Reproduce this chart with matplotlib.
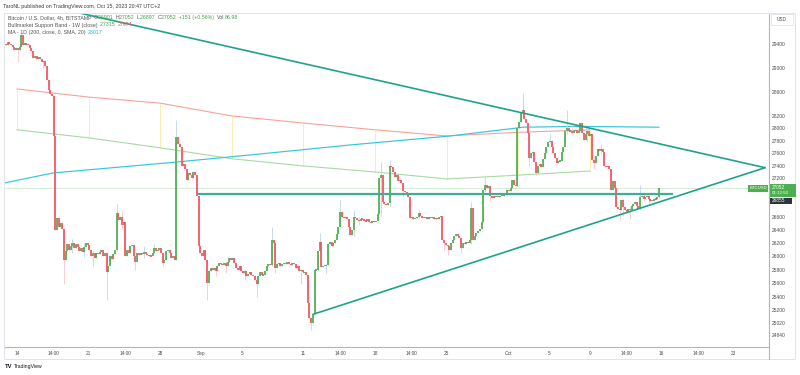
import numpy as np
import pandas as pd
import matplotlib
matplotlib.use("Agg")
import matplotlib.pyplot as plt
import matplotlib.dates as mdates
from matplotlib.patches import Rectangle
from matplotlib.lines import Line2D
from matplotlib.ticker import FixedLocator, NullLocator

plt.rcParams['font.family'] = ['Liberation Sans', 'DejaVu Sans']

W, H = 800, 375

# ---------------- data ----------------
first_time = "2023-08-12 18:00"
first_open = 29420
closes = [
    29400, 29380,                                   # Aug 12 (18,22)
    29430, 29400, 29380, 29350, 29300, 29330,       # Aug 13
    29300, 29350, 29560, 29380, 29420, 29390,       # Aug 14
    29380, 29330, 29280, 29170, 29200, 29150,       # Aug 15
    29180, 29150, 29090, 29110, 29030, 28800,       # Aug 16
    28620, 28560, 28520, 27870, 26400, 26580,       # Aug 17
    26450, 26500, 26420, 25950, 26080, 26180,       # Aug 18
    26100, 26150, 26200, 26120, 26180, 26140,       # Aug 19
    26080, 26120, 26060, 26140, 26200, 26170,       # Aug 20
    26100, 26000, 26050, 25980, 26050, 26030,       # Aug 21
    26070, 26100, 26000, 26050, 25760, 25850,       # Aug 22
    26000, 25960, 26030, 26100, 26660, 26550,       # Aug 23
    26600, 26480, 26520, 26000, 26100, 26050,       # Aug 24
    26150, 26170, 26000, 25920, 26050, 26020,       # Aug 25
    26050, 26030, 26060, 26040, 26020, 26010,       # Aug 26
    26000, 26050, 26120, 26080, 26100, 26120,       # Aug 27
    26050, 25900, 25950, 26080, 26100, 26050,       # Aug 28
    25980, 26000, 25950, 27860, 27750, 27700,       # Aug 29
    27400, 27420, 27350, 27170, 27280, 27250,       # Aug 30
    27200, 27300, 27260, 26920, 26150, 26050,       # Aug 31
    26000, 26100, 25950, 25600, 25780, 25820,       # Sep 1
    25800, 25830, 25780, 25850, 25900, 25880,       # Sep 2
    25870, 25900, 25860, 25920, 25980, 25940,       # Sep 3
    25980, 25900, 25830, 25800, 25850, 25780,       # Sep 4
    25750, 25780, 25700, 25740, 25760, 25720,       # Sep 5
    25700, 25650, 25580, 25700, 25760, 25720,       # Sep 6
    25720, 25780, 25850, 25880, 25870, 26250,       # Sep 7
    26200, 25820, 25880, 25900, 25860, 25880,       # Sep 8
    25900, 25880, 25910, 25890, 25870, 25900,       # Sep 9
    25880, 25820, 25850, 25780, 25800, 25760,       # Sep 10
    25760, 25720, 25300, 25080, 25010, 25150,       # Sep 11
    25790, 25800, 26080, 26220, 25840, 25860,       # Sep 12
    25850, 25870, 26180, 26220, 26150, 26200,       # Sep 13
    26250, 26340, 26450, 26680, 26600, 26580,       # Sep 14
    26600, 26560, 26450, 26320, 26400, 26600,       # Sep 15
    26580, 26550, 26530, 26570, 26560, 26540,       # Sep 16
    26530, 26560, 26520, 26500, 26540, 26520,       # Sep 17
    26540, 26650, 27200, 27250, 26830, 26800,       # Sep 18
    26780, 26820, 27400, 27380, 27300, 27220,       # Sep 19
    27250, 27150, 27170, 27120, 27000, 26980,       # Sep 20
    26950, 26900, 26580, 26600, 26560, 26580,       # Sep 21
    26600, 26660, 26620, 26580, 26600, 26590,       # Sep 22
    26570, 26590, 26580, 26600, 26570, 26580,       # Sep 23
    26560, 26590, 26610, 26250, 26200, 26170,       # Sep 24
    26150, 26100, 26200, 26250, 26300, 26330,       # Sep 25
    26300, 26280, 26130, 26200, 26180, 26220,       # Sep 26
    26200, 26250, 26740, 26250, 26300, 26350,       # Sep 27
    26380, 26420, 26520, 27020, 27100, 27050,       # Sep 28
    27080, 26920, 26890, 26930, 26900, 26920,       # Sep 29
    26910, 26930, 26920, 26950, 26940, 27020,       # Sep 30
    27000, 27050, 27170, 27100, 27080, 28000,       # Oct 1
    28100, 28250, 28300, 28150, 28080, 27930,       # Oct 2
    27520, 27600, 27620, 27460, 27280, 27400,       # Oct 3
    27430, 27380, 27500, 27600, 27700, 27780,       # Oct 4
    27800, 27700, 27600, 27520, 27440, 27470,       # Oct 5
    27480, 27620, 27700, 27960, 28000, 27950,       # Oct 6
    27960, 27930, 27950, 27970, 27920, 27950,       # Oct 7
    28080, 27920, 27810, 27900, 27950, 27880,       # Oct 8
    27900, 27490, 27440, 27550, 27660, 27640,       # Oct 9
    27660, 27620, 27400, 27380, 27400, 27350,       # Oct 10
    27020, 27150, 27050, 26750, 26720, 26700,       # Oct 11
    26860, 26750, 26700, 26680, 26720, 26700,       # Oct 12
    26760, 26800, 26830, 26760, 26720, 26900,       # Oct 13
    26920, 26880, 26900, 26920, 26870, 26850,       # Oct 14
    26850, 26880, 26870, 26901, 27052,              # Oct 15
]

# notable wicks (candle open time, high, low)
wick_times = ["2023-08-14 02:00", "2023-08-14 10:00", "2023-08-16 14:00",
              "2023-08-18 14:00", "2023-08-19 10:00", "2023-08-20 14:00",
              "2023-08-21 10:00", "2023-08-22 18:00", "2023-08-23 18:00",
              "2023-08-24 06:00", "2023-08-25 14:00", "2023-08-26 10:00",
              "2023-08-27 10:00", "2023-08-28 06:00", "2023-08-29 14:00",
              "2023-09-01 14:00", "2023-09-02 10:00", "2023-09-03 10:00",
              "2023-09-05 06:00", "2023-09-06 10:00", "2023-09-07 22:00",
              "2023-09-08 06:00", "2023-09-10 18:00", "2023-09-11 18:00",
              "2023-09-12 14:00", "2023-09-13 06:00", "2023-09-14 14:00",
              "2023-09-15 22:00", "2023-09-16 10:00", "2023-09-18 14:00",
              "2023-09-19 10:00", "2023-09-20 18:00", "2023-09-22 06:00",
              "2023-09-24 18:00", "2023-09-25 02:00", "2023-09-26 10:00",
              "2023-09-27 10:00", "2023-09-28 18:00", "2023-09-29 06:00",
              "2023-10-02 10:00", "2023-10-03 02:00", "2023-10-03 18:00",
              "2023-10-04 14:00", "2023-10-05 02:00", "2023-10-06 18:00",
              "2023-10-07 06:00", "2023-10-08 18:00", "2023-10-09 10:00",
              "2023-10-10 02:00", "2023-10-11 22:00", "2023-10-12 06:00",
              "2023-10-12 22:00", "2023-10-13 22:00", "2023-10-14 06:00",
              "2023-10-14 18:00", "2023-10-15 18:00"]
wick_highs = [29310, 29590, 29120,
              26430, 26260, 26200,
              26080, 25860, 26800,
              26700, 26000, 26150,
              26180, 26060, 28130,
              25800, 25860, 25930,
              25800, 25700, 26440,
              26220, 25810, 25100,
              26350, 25880, 26860,
              26700, 26600, 27460,
              27490, 27080, 26720,
              26260, 26160, 26230,
              26830, 27250, 26940,
              28580, 27960, 27480,
              27700, 27900, 28290,
              28050, 27960, 27550,
              27750, 26760, 26880,
              26760, 27100, 26980,
              26940, 27052]
wick_lows = [29095, 29350, 28980,
             25590, 26050, 25990,
             25850, 25350, 26080,
             26420, 25800, 25980,
             26050, 25850, 25940,
             25350, 25700, 25750,
             25650, 25390, 25860,
             25750, 25590, 24910,
             26150, 25750, 26420,
             26300, 26480, 26620,
             26760, 26900, 26560,
             26100, 26025, 26050,
             26180, 26980, 26850,
             28200, 27400, 27250,
             27560, 27760, 27900,
             27900, 27780, 27350,
             27600, 26550, 26620,
             26570, 26700, 26850,
             26800, 26897]

# Bull market support band (weekly)
week_dates = ["2023-08-14", "2023-08-21", "2023-08-28", "2023-09-04", "2023-09-11",
              "2023-09-18", "2023-09-25", "2023-10-02", "2023-10-09"]
bmsb_sma = [28644, 28510, 28410, 28200, 28085, 27975, 27875, 27935, 27974]
bmsb_ema = [27975, 27845, 27685, 27510, 27395, 27300, 27190, 27250, 27315]

# 200 SMA (1D)
ma_dates = ["2023-08-12 18:00", "2023-08-17 12:00", "2023-08-29 15:00", "2023-09-06 18:00",
            "2023-09-15 13:00", "2023-09-25 08:00", "2023-10-01 21:00", "2023-10-02 10:00",
            "2023-10-08 00:00", "2023-10-15 18:00"]
ma_values = [27126, 27284, 27458, 27586, 27730, 27875, 28004, 28017, 28030, 28017]

# drawings
tl_upper_dates = ["2023-08-19 16:00", "2023-10-26 03:00"]
tl_upper_prices = [29950, 27368]
tl_lower_dates = ["2023-09-11 23:00", "2023-10-26 03:00"]
tl_lower_prices = [25141, 27368]
hline_dates = ["2023-08-31 14:00", "2023-10-17 03:00"]
hline_price = 26950
last_price = 27052
marker_price = 26855

ytick_values = [29400, 29000, 28600, 28200, 28000, 27800, 27600, 27400, 27200,
                26600, 26400, 26200, 26000, 25800, 25600, 25400, 25200, 25020, 24840]
xtick_dates = ["2023-08-14 00:00", "2023-08-17 14:00", "2023-08-21 00:00", "2023-08-24 14:00",
               "2023-08-28 00:00", "2023-09-01 00:00", "2023-09-05 00:00", "2023-09-11 00:00",
               "2023-09-14 14:00", "2023-09-18 00:00", "2023-09-21 14:00", "2023-09-25 00:00",
               "2023-10-01 00:00", "2023-10-05 00:00", "2023-10-09 00:00", "2023-10-12 14:00",
               "2023-10-16 00:00", "2023-10-19 14:00", "2023-10-23 00:00"]
xtick_labels = ["14", "14:00", "21", "14:00", "28", "Sep", "5", "11", "14:00", "18",
                "14:00", "25", "Oct", "5", "9", "14:00", "16", "14:00", "23"]

# ---------------- styling ----------------
GREEN = '#4caf50'
RED = '#f7525f'
WICK_G = '#bcd7e3'
WICK_R = '#f9c6cb'
TEAL = '#1fa38c'
FRAME = '#e0e3eb'
AXISC = '#b2b5be'
TXT = '#4a4a4a'


def d2n(s):
    return mdates.date2num(pd.Timestamp(s))


def dn(lst):
    return np.array([d2n(s) for s in lst])


fig = plt.figure(figsize=(W / 100, H / 100), dpi=100)
fig.patch.set_facecolor('white')

pane_l, pane_r, pane_t, pane_b = 4, 769, 12.5, 346.7
ax = fig.add_axes([pane_l / W, 1 - pane_b / H, (pane_r - pane_l) / W, (pane_b - pane_t) / H])
ax.set_facecolor('white')

base = d2n("2023-08-14 00:00")
ax.set_xlim(base - 1.271, base + 73.51)
ax.set_yscale('log')
ax.set_ylim(24673, 29941)

times = pd.date_range(first_time, periods=len(closes), freq='4h')
x = np.array([mdates.date2num(t) for t in times])
c = np.array(closes, dtype=float)
o = np.concatenate([[first_open], c[:-1]])
up = c >= o
lo = np.minimum(o, c)
hi = np.maximum(o, c)
hi_w = hi.copy()
lo_w = lo.copy()
for t, h, l in zip(dn(wick_times), wick_highs, wick_lows):
    i = int(np.argmin(np.abs(x - t)))
    hi_w[i] = max(hi_w[i], h)
    lo_w[i] = min(lo_w[i], l)

# weekly band
wx = dn(week_dates)
ax.vlines(wx, bmsb_ema, bmsb_sma, colors='#fbeeb0', lw=0.7, zorder=1)
ax.plot(wx, bmsb_sma, color='#f6a39c', lw=0.8, zorder=2)
ax.plot(wx, bmsb_ema, color='#a9d8a5', lw=0.8, zorder=2)

# MA
ax.plot(dn(ma_dates), ma_values, color='#35c6dc', lw=0.85, zorder=2)

# last price line
ax.axhline(last_price, color='#cfe9d0', lw=0.6, zorder=1)

# wicks
ax.vlines(x[up], lo_w[up], hi_w[up], colors=WICK_G, lw=0.6, zorder=3)
ax.vlines(x[~up], lo_w[~up], hi_w[~up], colors=WICK_R, lw=0.6, zorder=3)
# bodies (minimum visible height ~1px)
mid = (lo + hi) / 2
small = hi / lo < 1.0007
blo = np.where(small, mid * (1 - 0.00035), lo)
bhi = np.where(small, mid * (1 + 0.00035), hi)
ax.vlines(x[up], blo[up], bhi[up], colors=GREEN, lw=1.25, zorder=4)
ax.vlines(x[~up], blo[~up], bhi[~up], colors=RED, lw=1.25, zorder=4)

# trend lines
ax.plot(dn(tl_upper_dates), tl_upper_prices, color=TEAL, lw=1.2, zorder=5, solid_capstyle='round')
ax.plot(dn(tl_lower_dates), tl_lower_prices, color=TEAL, lw=1.2, zorder=5, solid_capstyle='round')
ax.plot(dn(hline_dates), [hline_price, hline_price], color='#3fae98', lw=1.6, zorder=5,
        solid_capstyle='butt')

# axes styling
for s in ['top', 'left']:
    ax.spines[s].set_color(FRAME)
    ax.spines[s].set_linewidth(0.7)
for s in ['right', 'bottom']:
    ax.spines[s].set_color(AXISC)
    ax.spines[s].set_linewidth(0.8)

ax.yaxis.tick_right()
ax.yaxis.set_major_locator(FixedLocator(ytick_values))
ax.yaxis.set_minor_locator(NullLocator())
ax.set_yticklabels([str(v) for v in ytick_values])
ax.tick_params(axis='y', length=0, pad=2.2, labelsize=3.5, labelcolor=TXT)
ax.xaxis.set_major_locator(FixedLocator(dn(xtick_dates)))
ax.xaxis.set_minor_locator(NullLocator())
ax.set_xticklabels(xtick_labels)
ax.tick_params(axis='x', length=0, pad=3.1, labelsize=3.4, labelcolor=TXT)

# ---------------- figure-level decorations ----------------
def fx(px):
    return px / W


def fy(py):
    return 1 - py / H


def frect(x0, y0, x1, y1, **kw):
    r = Rectangle((fx(x0), fy(y1)), fx(x1) - fx(x0), fy(y0) - fy(y1), transform=fig.transFigure, **kw)
    fig.patches.append(r)
    return r


frect(4, 12.5, 795, 359, fill=False, edgecolor=FRAME, lw=0.7)
fig.lines.append(Line2D([fx(769), fx(769)], [fy(346.7), fy(359)], transform=fig.transFigure,
                        color=AXISC, lw=0.8))
frect(770.5, 13.5, 793, 25, fill=False, edgecolor=FRAME, lw=0.6)
fig.text(fx(781.7), fy(19.3), "USD", fontsize=3.4, color=TXT, ha='center', va='center')

# price labels on axis
frect(748, 184.5, 768, 192, facecolor=GREEN, edgecolor='none')
fig.text(fx(758), fy(188.3), "BTCUSD", fontsize=3.1, color='white', ha='center', va='center')
frect(769.5, 183.5, 796, 197, facecolor=GREEN, edgecolor='none')
fig.text(fx(772), fy(187.6), f"{last_price}", fontsize=3.4, color='white', ha='left', va='center')
fig.text(fx(772), fy(193.5), "01:12:50", fontsize=3.2, color='white', ha='left', va='center')
frect(769.5, 197.5, 792, 204, facecolor='#2f333e', edgecolor='none')
fig.text(fx(772), fy(200.8), f"{marker_price}", fontsize=3.4, color='white', ha='left', va='center')

renderer = fig.canvas.get_renderer()


def seq_text(x0, y0, parts, size):
    xp = x0
    for s, col in parts:
        t = fig.text(fx(xp), fy(y0), s, fontsize=size, color=col, ha='left', va='center', zorder=10)
        bb = t.get_window_extent(renderer=renderer)
        xp += bb.width


fig.text(fx(3), fy(6.3), "TaroNL published on TradingView.com, Oct 15, 2023 20:47 UTC+2",
         fontsize=3.75, color='#3a3a3a', ha='left', va='center')

LG = '#555555'
VG = '#43a047'
seq_text(7.5, 17.5, [("Bitcoin / U.S. Dollar, 4h, BITSTAMP  ", LG), ("O", LG), ("26901  ", VG),
                     ("H", LG), ("27052  ", VG), ("L", LG), ("26897  ", VG), ("C", LG),
                     ("27052  +151 (+0.56%)  ", VG), ("Vol", LG), ("86.98", VG)], 3.8)
seq_text(7.5, 25.0, [("Bullmarket Support Band - 1W (close)  ", LG), ("27315  ", VG),
                     ("27974", '#f0525f')], 3.8)
seq_text(7.5, 32.5, [("MA - 1D (200, close, 0, SMA, 20)  ", LG), ("28017", '#1fb6d0')], 3.8)

# TradingView logo
fig.text(fx(5), fy(366.5), "TV", fontsize=4.2, color='#131722', ha='left', va='center', fontweight='bold')
fig.text(fx(13.5), fy(366.5), "TradingView", fontsize=3.7, color='#131722', ha='left', va='center')

fig.savefig("out.png", dpi=100, facecolor='white')
